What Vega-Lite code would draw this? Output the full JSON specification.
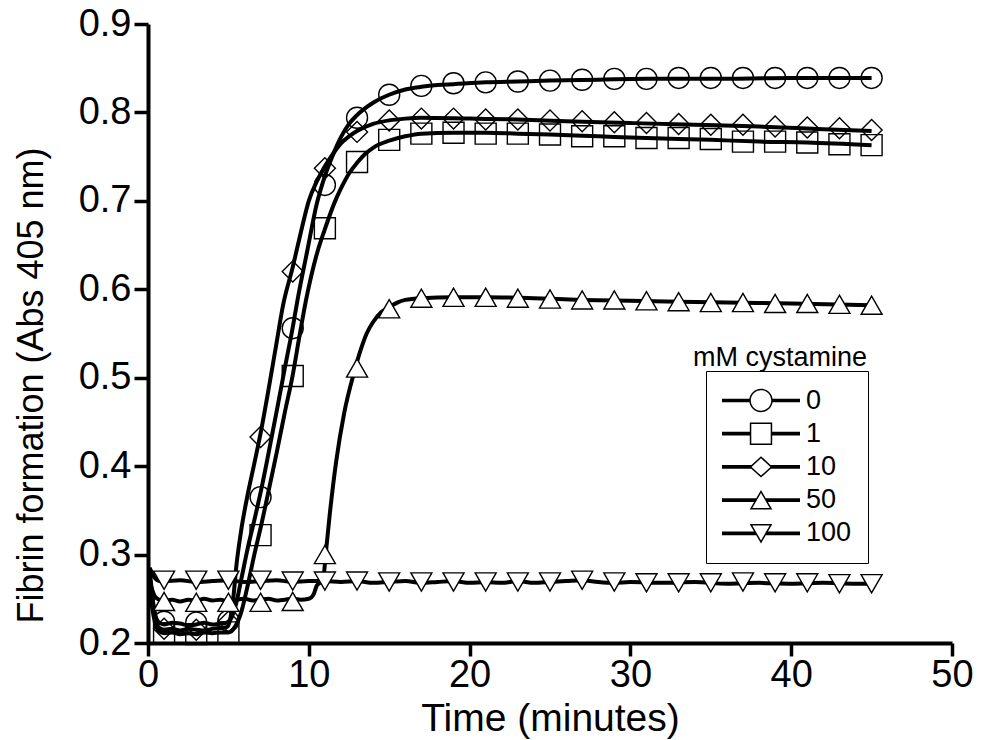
{
  "$schema": "https://vega.github.io/schema/vega-lite/v6.json",
  "width": 804,
  "height": 619,
  "autosize": {"type": "none"},
  "padding": {"left": 148, "top": 24, "right": 36, "bottom": 97},
  "background": "white",
  "config": {
    "font": "Liberation Sans",
    "view": {"stroke": null},
    "axis": {
      "domainColor": "black", "domainWidth": 4, "tickColor": "black", "tickWidth": 3.5,
      "labelColor": "black", "titleColor": "black", "grid": false,
      "labelFlush": false, "labelOverlap": false, "titleFontWeight": "normal"
    }
  },
  "datasets": {
    "lines": [
      {"c":0,"t":0.1,"v":0.275},{"c":0,"t":0.45,"v":0.232},{"c":0,"t":0.7,"v":0.223},{"c":0,"t":1,"v":0.221},{"c":0,"t":1.5,"v":0.223},{"c":0,"t":2,"v":0.222},{"c":0,"t":2.5,"v":0.220},{"c":0,"t":3,"v":0.221},{"c":0,"t":3.5,"v":0.223},{"c":0,"t":4,"v":0.221},{"c":0,"t":4.5,"v":0.222},{"c":0,"t":4.9,"v":0.223},{"c":0,"t":5.2,"v":0.229},{"c":0,"t":5.5,"v":0.246},{"c":0,"t":5.8,"v":0.272},{"c":0,"t":6.2,"v":0.307},{"c":0,"t":6.6,"v":0.338},{"c":0,"t":7,"v":0.37},{"c":0,"t":7.5,"v":0.415},{"c":0,"t":8,"v":0.462},{"c":0,"t":8.5,"v":0.51},{"c":0,"t":9,"v":0.557},{"c":0,"t":9.3,"v":0.588},{"c":0,"t":9.9,"v":0.643},{"c":0,"t":10.5,"v":0.697},{"c":0,"t":11,"v":0.728},{"c":0,"t":11.5,"v":0.752},{"c":0,"t":12,"v":0.772},{"c":0,"t":12.5,"v":0.787},{"c":0,"t":13,"v":0.797},{"c":0,"t":14,"v":0.811},{"c":0,"t":15,"v":0.820},{"c":0,"t":16,"v":0.826},{"c":0,"t":17,"v":0.829},{"c":0,"t":18,"v":0.831},{"c":0,"t":19,"v":0.832},{"c":0,"t":21,"v":0.834},{"c":0,"t":23,"v":0.835},{"c":0,"t":25,"v":0.836},{"c":0,"t":28,"v":0.837},{"c":0,"t":31,"v":0.838},{"c":0,"t":35,"v":0.838},{"c":0,"t":40,"v":0.839},{"c":0,"t":45,"v":0.839},
      {"c":1,"t":0.1,"v":0.26},{"c":1,"t":0.45,"v":0.222},{"c":1,"t":0.7,"v":0.213},{"c":1,"t":1,"v":0.211},{"c":1,"t":1.5,"v":0.212},{"c":1,"t":2,"v":0.210},{"c":1,"t":2.5,"v":0.211},{"c":1,"t":3,"v":0.210},{"c":1,"t":3.5,"v":0.212},{"c":1,"t":4,"v":0.211},{"c":1,"t":4.5,"v":0.212},{"c":1,"t":5,"v":0.212},{"c":1,"t":5.4,"v":0.218},{"c":1,"t":5.8,"v":0.235},{"c":1,"t":6.2,"v":0.265},{"c":1,"t":6.65,"v":0.303},{"c":1,"t":7,"v":0.33},{"c":1,"t":7.5,"v":0.372},{"c":1,"t":8,"v":0.415},{"c":1,"t":8.5,"v":0.46},{"c":1,"t":9,"v":0.503},{"c":1,"t":9.4,"v":0.545},{"c":1,"t":9.83,"v":0.588},{"c":1,"t":10.5,"v":0.64},{"c":1,"t":11,"v":0.668},{"c":1,"t":11.6,"v":0.698},{"c":1,"t":12,"v":0.714},{"c":1,"t":12.5,"v":0.731},{"c":1,"t":13,"v":0.743},{"c":1,"t":13.5,"v":0.753},{"c":1,"t":14,"v":0.760},{"c":1,"t":15,"v":0.768},{"c":1,"t":16,"v":0.773},{"c":1,"t":17,"v":0.776},{"c":1,"t":19,"v":0.777},{"c":1,"t":21,"v":0.777},{"c":1,"t":23,"v":0.776},{"c":1,"t":25,"v":0.775},{"c":1,"t":28,"v":0.773},{"c":1,"t":31,"v":0.771},{"c":1,"t":35,"v":0.769},{"c":1,"t":38,"v":0.767},{"c":1,"t":41,"v":0.766},{"c":1,"t":45,"v":0.763},
      {"c":10,"t":0.1,"v":0.285},{"c":10,"t":0.45,"v":0.228},{"c":10,"t":0.7,"v":0.217},{"c":10,"t":1,"v":0.215},{"c":10,"t":1.5,"v":0.216},{"c":10,"t":2,"v":0.214},{"c":10,"t":2.5,"v":0.216},{"c":10,"t":3,"v":0.215},{"c":10,"t":3.5,"v":0.214},{"c":10,"t":4,"v":0.216},{"c":10,"t":4.5,"v":0.217},{"c":10,"t":4.9,"v":0.218},{"c":10,"t":5.1,"v":0.226},{"c":10,"t":5.3,"v":0.25},{"c":10,"t":5.5,"v":0.288},{"c":10,"t":5.8,"v":0.328},{"c":10,"t":6.2,"v":0.368},{"c":10,"t":6.6,"v":0.402},{"c":10,"t":7,"v":0.437},{"c":10,"t":7.5,"v":0.487},{"c":10,"t":8,"v":0.54},{"c":10,"t":8.4,"v":0.582},{"c":10,"t":9,"v":0.625},{"c":10,"t":9.5,"v":0.664},{"c":10,"t":10,"v":0.700},{"c":10,"t":10.5,"v":0.722},{"c":10,"t":11,"v":0.739},{"c":10,"t":11.5,"v":0.753},{"c":10,"t":12,"v":0.765},{"c":10,"t":12.5,"v":0.773},{"c":10,"t":13,"v":0.779},{"c":10,"t":14,"v":0.787},{"c":10,"t":15,"v":0.791},{"c":10,"t":16,"v":0.793},{"c":10,"t":17,"v":0.794},{"c":10,"t":20,"v":0.793},{"c":10,"t":23,"v":0.792},{"c":10,"t":26,"v":0.790},{"c":10,"t":30,"v":0.788},{"c":10,"t":34,"v":0.786},{"c":10,"t":38,"v":0.784},{"c":10,"t":42,"v":0.781},{"c":10,"t":45,"v":0.779},
      {"c":50,"t":0.1,"v":0.27},{"c":50,"t":0.45,"v":0.252},{"c":50,"t":0.7,"v":0.249},{"c":50,"t":1,"v":0.248},{"c":50,"t":1.5,"v":0.249},{"c":50,"t":2,"v":0.247},{"c":50,"t":2.5,"v":0.249},{"c":50,"t":3,"v":0.248},{"c":50,"t":3.5,"v":0.250},{"c":50,"t":4,"v":0.248},{"c":50,"t":4.5,"v":0.249},{"c":50,"t":5,"v":0.247},{"c":50,"t":5.5,"v":0.249},{"c":50,"t":6,"v":0.250},{"c":50,"t":6.5,"v":0.248},{"c":50,"t":7,"v":0.249},{"c":50,"t":7.5,"v":0.250},{"c":50,"t":8,"v":0.248},{"c":50,"t":8.5,"v":0.249},{"c":50,"t":9,"v":0.250},{"c":50,"t":9.5,"v":0.249},{"c":50,"t":10,"v":0.250},{"c":50,"t":10.3,"v":0.255},{"c":50,"t":10.5,"v":0.265},{"c":50,"t":10.8,"v":0.27},{"c":50,"t":10.95,"v":0.28},{"c":50,"t":11.05,"v":0.30},{"c":50,"t":11.3,"v":0.345},{"c":50,"t":11.7,"v":0.405},{"c":50,"t":12.2,"v":0.46},{"c":50,"t":12.8,"v":0.505},{"c":50,"t":13.2,"v":0.53},{"c":50,"t":13.6,"v":0.55},{"c":50,"t":14,"v":0.563},{"c":50,"t":14.5,"v":0.574},{"c":50,"t":15,"v":0.58},{"c":50,"t":15.5,"v":0.585},{"c":50,"t":16,"v":0.588},{"c":50,"t":17,"v":0.590},{"c":50,"t":19,"v":0.591},{"c":50,"t":21,"v":0.591},{"c":50,"t":24,"v":0.590},{"c":50,"t":27,"v":0.588},{"c":50,"t":30,"v":0.587},{"c":50,"t":33,"v":0.586},{"c":50,"t":36,"v":0.585},{"c":50,"t":40,"v":0.584},{"c":50,"t":45,"v":0.582},
      {"c":100,"t":0.1,"v":0.285},{"c":100,"t":0.45,"v":0.273},{"c":100,"t":0.7,"v":0.270},{"c":100,"t":1,"v":0.270},{"c":100,"t":2,"v":0.271},{"c":100,"t":3,"v":0.269},{"c":100,"t":4,"v":0.270},{"c":100,"t":5,"v":0.271},{"c":100,"t":6,"v":0.269},{"c":100,"t":7,"v":0.270},{"c":100,"t":8,"v":0.271},{"c":100,"t":9,"v":0.269},{"c":100,"t":10,"v":0.270},{"c":100,"t":11,"v":0.270},{"c":100,"t":12,"v":0.269},{"c":100,"t":13,"v":0.270},{"c":100,"t":14,"v":0.268},{"c":100,"t":15,"v":0.269},{"c":100,"t":16,"v":0.270},{"c":100,"t":17,"v":0.268},{"c":100,"t":18,"v":0.269},{"c":100,"t":19,"v":0.270},{"c":100,"t":20,"v":0.268},{"c":100,"t":21,"v":0.269},{"c":100,"t":22,"v":0.268},{"c":100,"t":23,"v":0.270},{"c":100,"t":24,"v":0.268},{"c":100,"t":25,"v":0.269},{"c":100,"t":26,"v":0.270},{"c":100,"t":27,"v":0.271},{"c":100,"t":28,"v":0.269},{"c":100,"t":29,"v":0.268},{"c":100,"t":30,"v":0.269},{"c":100,"t":32,"v":0.268},{"c":100,"t":34,"v":0.269},{"c":100,"t":36,"v":0.267},{"c":100,"t":38,"v":0.268},{"c":100,"t":40,"v":0.267},{"c":100,"t":42,"v":0.268},{"c":100,"t":44,"v":0.267},{"c":100,"t":45,"v":0.267}
    ],
    "markers": [
      {"c":0,"t":1,"v":0.224},{"c":0,"t":3,"v":0.223},{"c":0,"t":5,"v":0.225},{"c":0,"t":7,"v":0.365},{"c":0,"t":9,"v":0.556},{"c":0,"t":11,"v":0.718},{"c":0,"t":13,"v":0.794},{"c":0,"t":15,"v":0.820},{"c":0,"t":17,"v":0.830},{"c":0,"t":19,"v":0.833},{"c":0,"t":21,"v":0.834},{"c":0,"t":23,"v":0.835},{"c":0,"t":25,"v":0.836},{"c":0,"t":27,"v":0.837},{"c":0,"t":29,"v":0.838},{"c":0,"t":31,"v":0.838},{"c":0,"t":33,"v":0.839},{"c":0,"t":35,"v":0.839},{"c":0,"t":37,"v":0.839},{"c":0,"t":39,"v":0.839},{"c":0,"t":41,"v":0.839},{"c":0,"t":43,"v":0.839},{"c":0,"t":45,"v":0.839},
      {"c":1,"t":1,"v":0.211},{"c":1,"t":3,"v":0.210},{"c":1,"t":5,"v":0.212},{"c":1,"t":7,"v":0.322},{"c":1,"t":9,"v":0.502},{"c":1,"t":11,"v":0.669},{"c":1,"t":13,"v":0.744},{"c":1,"t":15,"v":0.769},{"c":1,"t":17,"v":0.776},{"c":1,"t":19,"v":0.777},{"c":1,"t":21,"v":0.776},{"c":1,"t":23,"v":0.776},{"c":1,"t":25,"v":0.775},{"c":1,"t":27,"v":0.773},{"c":1,"t":29,"v":0.773},{"c":1,"t":31,"v":0.771},{"c":1,"t":33,"v":0.771},{"c":1,"t":35,"v":0.770},{"c":1,"t":37,"v":0.767},{"c":1,"t":39,"v":0.767},{"c":1,"t":41,"v":0.766},{"c":1,"t":43,"v":0.764},{"c":1,"t":45,"v":0.763},
      {"c":10,"t":1,"v":0.216},{"c":10,"t":3,"v":0.215},{"c":10,"t":5,"v":0.224},{"c":10,"t":7,"v":0.433},{"c":10,"t":9,"v":0.620},{"c":10,"t":11,"v":0.737},{"c":10,"t":13,"v":0.778},{"c":10,"t":15,"v":0.791},{"c":10,"t":17,"v":0.793},{"c":10,"t":19,"v":0.793},{"c":10,"t":21,"v":0.792},{"c":10,"t":23,"v":0.792},{"c":10,"t":25,"v":0.791},{"c":10,"t":27,"v":0.790},{"c":10,"t":29,"v":0.789},{"c":10,"t":31,"v":0.788},{"c":10,"t":33,"v":0.787},{"c":10,"t":35,"v":0.786},{"c":10,"t":37,"v":0.786},{"c":10,"t":39,"v":0.784},{"c":10,"t":41,"v":0.783},{"c":10,"t":43,"v":0.782},{"c":10,"t":45,"v":0.780},
      {"c":50,"t":1,"v":0.247},{"c":50,"t":3,"v":0.246},{"c":50,"t":5,"v":0.246},{"c":50,"t":7,"v":0.246},{"c":50,"t":9,"v":0.247},{"c":50,"t":11,"v":0.300},{"c":50,"t":13,"v":0.511},{"c":50,"t":15,"v":0.578},{"c":50,"t":17,"v":0.590},{"c":50,"t":19,"v":0.591},{"c":50,"t":21,"v":0.591},{"c":50,"t":23,"v":0.590},{"c":50,"t":25,"v":0.589},{"c":50,"t":27,"v":0.588},{"c":50,"t":29,"v":0.588},{"c":50,"t":31,"v":0.587},{"c":50,"t":33,"v":0.586},{"c":50,"t":35,"v":0.585},{"c":50,"t":37,"v":0.585},{"c":50,"t":39,"v":0.584},{"c":50,"t":41,"v":0.584},{"c":50,"t":43,"v":0.583},{"c":50,"t":45,"v":0.582},
      {"c":100,"t":1,"v":0.271},{"c":100,"t":3,"v":0.271},{"c":100,"t":5,"v":0.271},{"c":100,"t":7,"v":0.271},{"c":100,"t":9,"v":0.270},{"c":100,"t":11,"v":0.270},{"c":100,"t":13,"v":0.270},{"c":100,"t":15,"v":0.269},{"c":100,"t":17,"v":0.269},{"c":100,"t":19,"v":0.269},{"c":100,"t":21,"v":0.269},{"c":100,"t":23,"v":0.269},{"c":100,"t":25,"v":0.269},{"c":100,"t":27,"v":0.271},{"c":100,"t":29,"v":0.269},{"c":100,"t":31,"v":0.268},{"c":100,"t":33,"v":0.268},{"c":100,"t":35,"v":0.268},{"c":100,"t":37,"v":0.269},{"c":100,"t":39,"v":0.268},{"c":100,"t":41,"v":0.268},{"c":100,"t":43,"v":0.267},{"c":100,"t":45,"v":0.267}
    ]
  },
  "layer": [
    {
      "data": {"name": "lines"},
      "mark": {"type": "line", "stroke": "black", "strokeWidth": 4, "interpolate": "monotone"},
      "encoding": {
        "x": {"field": "t", "type": "quantitative", "scale": {"domain": [0, 50], "nice": false, "zero": false},
          "axis": {"values": [0, 10, 20, 30, 40, 50], "title": "Time (minutes)", "labelFontSize": 38, "titleFontSize": 39,
            "tickSize": 13, "labelPadding": 0, "titleY": 87, "titleBaseline": "alphabetic"}},
        "y": {"field": "v", "type": "quantitative", "scale": {"domain": [0.2, 0.9], "nice": false, "zero": false},
          "axis": {"values": [0.2, 0.3, 0.4, 0.5, 0.6, 0.7, 0.8, 0.9], "format": ".1f", "title": "Fibrin formation (Abs 405 nm)",
            "labelFontSize": 38, "titleFontSize": 36, "tickSize": 14, "labelPadding": 3,
            "titleX": -106, "titleY": 361, "titleAngle": -90, "titleAlign": "center", "titleBaseline": "alphabetic"}},
        "detail": {"field": "c", "type": "nominal"}
      }
    },
    {
      "data": {"name": "markers"},
      "mark": {"type": "point", "filled": true, "fill": "white", "stroke": "black", "strokeWidth": 1.4, "size": 441, "opacity": 1},
      "encoding": {
        "x": {"field": "t", "type": "quantitative"},
        "y": {"field": "v", "type": "quantitative"},
        "shape": {"field": "c", "type": "nominal",
          "scale": {"domain": [0, 1, 10, 50, 100], "range": ["circle", "square", "diamond", "triangle-up", "triangle-down"]},
          "legend": null},
        "fillOpacity": {"condition": {"test": "datum.c >= 50", "value": 1}, "value": 0}
      }
    },
    {
      "data": {"name": "markers"},
      "mark": {"type": "point", "filled": true, "fill": "black", "strokeWidth": 0, "size": 729, "opacity": 0},
      "encoding": {
        "x": {"field": "t", "type": "quantitative"},
        "y": {"field": "v", "type": "quantitative"},
        "shape": {"field": "c", "type": "nominal", "title": null,
          "scale": {"domain": [0, 1, 10, 50, 100], "range": [
            "M0.867,0A0.867,0.867,0,1,1,-0.867,0A0.867,0.867,0,1,1,0.867,0ZM0.756,0A0.756,0.756,0,1,0,-0.756,0A0.756,0.756,0,1,0,0.756,0ZM-2.889,-0.137H-0.837V0.137H-2.889ZM0.837,-0.137H2.889V0.137H0.837Z",
            "M-0.83,-0.83H0.83V0.83H-0.83ZM-0.719,-0.719V0.719H0.719V-0.719ZM-2.889,-0.137H-0.8V0.137H-2.889ZM0.8,-0.137H2.889V0.137H0.8Z",
            "M-0.867,0L0,-0.793L0.867,0L0,0.793ZM-0.702,0L0,0.642L0.702,0L0,-0.642ZM-2.889,-0.137H-0.711V0.137H-2.889ZM0.711,-0.137H2.889V0.137H0.711Z",
            "M0,-0.753L0.837,0.697L-0.837,0.697ZM0,-0.53L-0.644,0.586L0.644,0.586ZM-2.889,-0.137H-0.37V0.137H-2.889ZM0.37,-0.137H2.889V0.137H0.37Z",
            "M0,0.753L-0.837,-0.697L0.837,-0.697ZM0,0.53L0.644,-0.586L-0.644,-0.586ZM-2.889,-0.137H-0.37V0.137H-2.889ZM0.37,-0.137H2.889V0.137H0.37Z"
          ]},
          "legend": {
            "orient": "none", "legendX": 558, "legendY": 347, "title": null,
            "strokeColor": "black", "padding": 16, "rowPadding": 5.2,
            "symbolSize": 729, "symbolStrokeWidth": 0, "symbolFillColor": "black", "symbolStrokeColor": "black", "symbolOpacity": 1,
            "symbolOffset": 25.5,
            "labelFontSize": 27, "labelOffset": 31.5, "labelColor": "black",
            "encode": {
              "legend": {"update": {"strokeWidth": {"value": 1.8}}},
              "symbols": {"update": {"fill": {"value": "black"}, "strokeWidth": {"value": 0}, "opacity": {"value": 1}, "fillOpacity": {"value": 1}}}
            }
          }
        }
      }
    },
    {
      "data": {"values": [{"label": "mM cystamine"}]},
      "mark": {"type": "text", "align": "left", "baseline": "alphabetic", "fontSize": 27, "color": "black"},
      "encoding": {
        "x": {"datum": 33.9, "type": "quantitative"},
        "y": {"datum": 0.513, "type": "quantitative"},
        "text": {"field": "label"}
      }
    }
  ],
  "resolve": {"scale": {"shape": "independent"}, "legend": {"shape": "independent"}}
}
